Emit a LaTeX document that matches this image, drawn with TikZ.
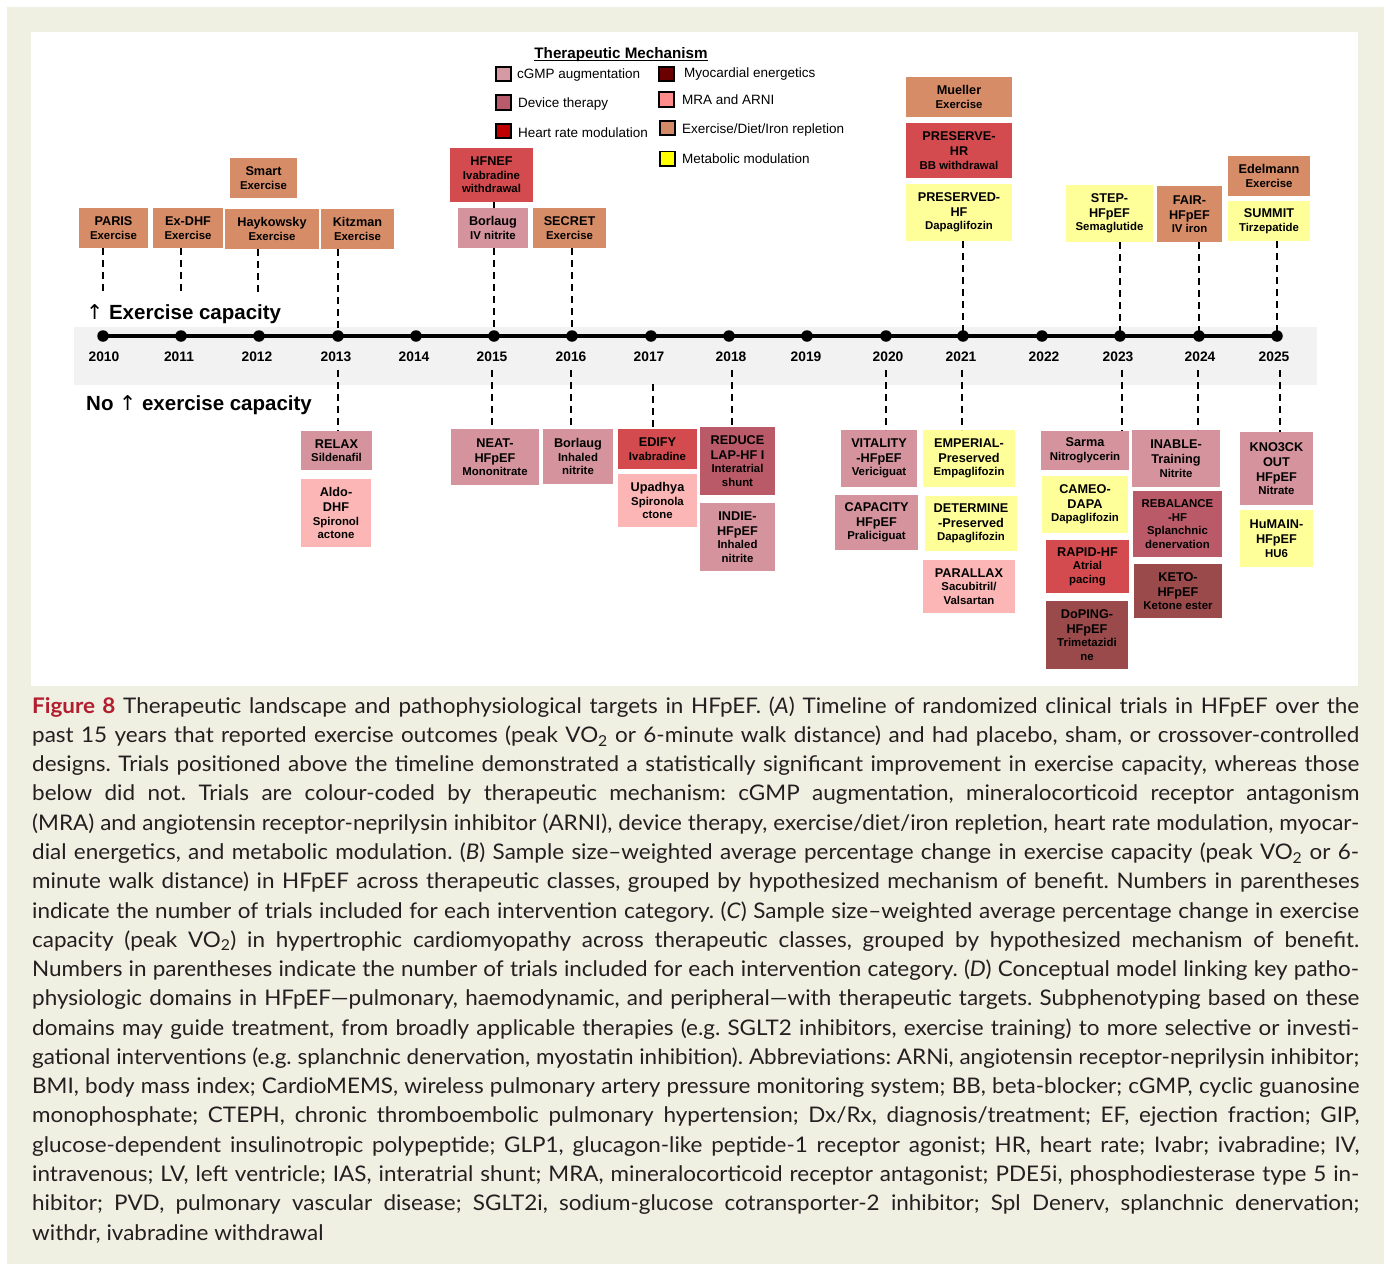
\documentclass[tikz,border=0pt]{standalone}
\usepackage{fontspec}
\newfontfamily\arial{Liberation Sans}
\newfontfamily\arrowfont{DejaVu Sans}
\newfontfamily\capfont[FakeStretch=1.045,Ligatures=TeX]{Lato}
\definecolor{beige}{RGB}{239,239,226}
\definecolor{band}{RGB}{242,242,242}
\definecolor{cExer}{RGB}{215,140,104}
\definecolor{cHR}{RGB}{211,75,78}
\definecolor{cCGMP}{RGB}{212,147,157}
\definecolor{cDev}{RGB}{186,90,105}
\definecolor{cMRA}{RGB}{253,182,182}
\definecolor{cMet}{RGB}{255,255,153}
\definecolor{cMyo}{RGB}{155,74,76}
\definecolor{lCGMP}{RGB}{213,154,164}
\definecolor{lDev}{RGB}{185,91,107}
\definecolor{lHR}{RGB}{192,0,0}
\definecolor{lMyo}{RGB}{107,0,0}
\definecolor{lMRA}{RGB}{255,139,139}
\definecolor{lExer}{RGB}{213,138,103}
\definecolor{lMet}{RGB}{255,255,0}
\definecolor{figred}{RGB}{178,30,46}
\definecolor{captext}{RGB}{35,31,32}
\newcommand\bxt[1]{{\fontsize{12.7pt}{15pt}\selectfont #1}}
\newcommand\uparr{{\arrowfont\mdseries ↑}}
\newcommand\trial[7]{\node[trial,fill=#6,minimum width={#4-#2},minimum height={#5-#3}] (#1) at ({(#2+#4)/2},{(#3+#5)/2}) {#7};}
\newcommand\capline[3]{\node[captxt] (#1) at (32,#2) {\makebox[1327pt][s]{#3}};}
\frenchspacing
\begin{document}
\begin{tikzpicture}[x=1pt,y=-1pt,
 trial/.style={inner sep=0pt,outer sep=0pt,align=center,text=black,font=\arial\bfseries\fontsize{11.4pt}{13.5pt}\selectfont},
 conn/.style={line width=2pt,dash pattern=on 7pt off 5pt,black},
 dot/.style={circle,fill=black,inner sep=0pt,minimum size=11.5pt},
 yearlbl/.style={font=\arial\bfseries\fontsize{13.8pt}{16pt}\selectfont,inner sep=0pt,text height=9.9pt,text depth=0pt},
 legsq/.style={draw=black,line width=1.6pt,minimum width=15pt,minimum height=14.5pt,inner sep=0pt},
 legtxt/.style={anchor=west,inner sep=0pt,font=\arial\fontsize{13.5pt}{16pt}\selectfont,text height=9.7pt,text depth=0pt},
 captxt/.style={anchor=base west,inner sep=0pt,text=captext,font=\capfont\fontsize{21.5pt}{25pt}\selectfont},
 biglbl/.style={anchor=west,inner sep=0pt,font=\arial\bfseries\fontsize{20.5pt}{24pt}\selectfont,text height=14.7pt,text depth=0pt}]
% background
\fill[white] (0,0) rectangle (1386,1266);
\fill[beige] (7,7) rectangle (1384,1264);
\fill[white] (31,32) rectangle (1358,686);
\fill[band] (74,327) rectangle (1317,385);
\useasboundingbox (0,0) rectangle (1386,1266);
% side labels
\node[biglbl] (up) at (86,312) {\uparr\ Exercise capacity};
\node[biglbl] (noup) at (86,403) {No \uparr\ exercise capacity};
% timeline
\coordinate (tlA) at (103,336);
\coordinate (tlB) at (1277,336);
\draw[line width=4.5pt] (tlA) -- (tlB);
\foreach \yr/\x/\lx in {2010/103/104,2011/181/179,2012/259/257,2013/338/336,2014/416/414,2015/494/492,2016/572/571,2017/651/649,2018/729/731,2019/807/806,2020/886/888,2021/963/961,2022/1042/1044,2023/1120/1118,2024/1199/1200,2025/1277/1274}{
  \node[dot] (y\yr) at (\x,336) {};
  \node[yearlbl] (l\yr) at (\lx,357) {\yr};
}
% ---- trials above
\trial{paris}{79}{208}{148}{248}{cExer}{\bxt{PARIS}\\Exercise}
\trial{exdhf}{153}{208}{223}{248}{cExer}{\bxt{Ex-DHF}\\Exercise}
\trial{smart}{230}{158}{297}{198}{cExer}{\bxt{Smart}\\Exercise}
\trial{hayk}{225}{209}{319}{249}{cExer}{\bxt{Haykowsky}\\Exercise}
\trial{kitz}{321}{209}{394}{249}{cExer}{\bxt{Kitzman}\\Exercise}
\trial{hfnef}{450}{148}{533}{202}{cHR}{\bxt{HFNEF}\\Ivabradine\\withdrawal}
\trial{borivn}{458}{208}{528}{248}{cCGMP}{\bxt{Borlaug}\\IV nitrite}
\trial{secret}{533}{208}{606}{248}{cExer}{\bxt{SECRET}\\Exercise}
\trial{mueller}{906}{77}{1012}{117}{cExer}{\bxt{Mueller}\\Exercise}
\trial{preshr}{906}{123}{1012}{178}{cHR}{\bxt{PRESERVE-}\\[1.5pt]\bxt{HR}\\BB withdrawal}
\trial{preshf}{906}{184}{1012}{241}{cMet}{\bxt{PRESERVED-}\\[1.5pt]\bxt{HF}\\Dapaglifozin}
\trial{step}{1066}{185}{1153}{242}{cMet}{\bxt{STEP-}\\[1.5pt]\bxt{HFpEF}\\Semaglutide}
\trial{fair}{1157}{186}{1222}{242}{cExer}{\bxt{FAIR-}\\[1.5pt]\bxt{HFpEF}\\IV iron}
\trial{edel}{1228}{156}{1310}{196}{cExer}{\bxt{Edelmann}\\Exercise}
\trial{summit}{1228}{201}{1310}{241}{cMet}{\bxt{SUMMIT}\\Tirzepatide}
% ---- trials below
\trial{relax}{301}{431}{372}{470}{cCGMP}{\bxt{RELAX}\\Sildenafil}
\trial{aldo}{301}{479}{371}{547}{cMRA}{\bxt{Aldo-}\\[1.5pt]\bxt{DHF}\\Spironol\\actone}
\trial{neat}{451}{429}{539}{485}{cCGMP}{\bxt{NEAT-}\\[1.5pt]\bxt{HFpEF}\\Mononitrate}
\trial{borinh}{543}{429}{613}{484}{cCGMP}{\bxt{Borlaug}\\Inhaled\\nitrite}
\trial{edify}{618}{429}{697}{469}{cHR}{\bxt{EDIFY}\\Ivabradine}
\trial{upadhya}{618}{474}{697}{527}{cMRA}{\bxt{Upadhya}\\Spironola\\ctone}
\trial{reduce}{700}{427}{775}{495}{cDev}{\bxt{REDUCE}\\[1.5pt]\bxt{LAP-HF I}\\Interatrial\\shunt}
\trial{indie}{700}{503}{775}{571}{cCGMP}{\bxt{INDIE-}\\[1.5pt]\bxt{HFpEF}\\Inhaled\\nitrite}
\trial{vitality}{841}{430}{917}{487}{cCGMP}{\bxt{VITALITY}\\[1.5pt]\bxt{-HFpEF}\\Vericiguat}
\trial{capacity}{835}{495}{918}{550}{cCGMP}{\bxt{CAPACITY}\\[1.5pt]\bxt{HFpEF}\\Praliciguat}
\trial{emperial}{923}{430}{1015}{487}{cMet}{\bxt{EMPERIAL-}\\[1.5pt]\bxt{Preserved}\\Empaglifozin}
\trial{determine}{925}{496}{1017}{551}{cMet}{\bxt{DETERMINE}\\[1.5pt]\bxt{-Preserved}\\Dapaglifozin}
\trial{parallax}{923}{560}{1015}{613}{cMRA}{\bxt{PARALLAX}\\Sacubitril/\\Valsartan}
\trial{sarma}{1041}{431}{1129}{470}{cCGMP}{\bxt{Sarma}\\Nitroglycerin}
\trial{cameo}{1042}{476}{1128}{533}{cMet}{\bxt{CAMEO-}\\[1.5pt]\bxt{DAPA}\\Dapaglifozin}
\trial{rapid}{1046}{540}{1129}{593}{cHR}{\bxt{RAPID-HF}\\Atrial\\pacing}
\trial{doping}{1046}{601}{1128}{669}{cMyo}{\bxt{DoPING-}\\[1.5pt]\bxt{HFpEF}\\Trimetazidi\\ne}
\trial{inable}{1132}{430}{1220}{487}{cCGMP}{\bxt{INABLE-}\\[1.5pt]\bxt{Training}\\Nitrite}
\trial{rebalance}{1133}{491}{1222}{557}{cDev}{REBALANCE\\-HF\\Splanchnic\\denervation}
\trial{keto}{1134}{564}{1222}{618}{cMyo}{\bxt{KETO-}\\[1.5pt]\bxt{HFpEF}\\Ketone ester}
\trial{kno3ck}{1240}{432}{1313}{505}{cCGMP}{\bxt{KNO3CK}\\[1.5pt]\bxt{OUT}\\[1.5pt]\bxt{HFpEF}\\Nitrate}
\trial{humain}{1240}{510}{1313}{567}{cMet}{\bxt{HuMAIN-}\\[1.5pt]\bxt{HFpEF}\\HU6}
% ---- connectors above
\coordinate (e2010) at (103,293);
\coordinate (e2011) at (181,293);
\coordinate (e2012) at (258,293);
\draw[conn] (paris.south -| e2010) -- (e2010);
\draw[conn] (exdhf.south -| e2011) -- (e2011);
\draw[conn] (hayk.south -| e2012) -- (e2012);
\draw[conn] (kitz.south -| y2013) -- (y2013.center);
\draw[conn] (hfnef.south -| y2015) -- (borivn.north -| y2015);
\draw[conn] (borivn.south -| y2015) -- (y2015.center);
\draw[conn] (secret.south -| y2016) -- (y2016.center);
\draw[conn] (preshf.south -| y2021) -- (y2021.center);
\draw[conn] (step.south -| y2023) -- (y2023.center);
\draw[conn] (fair.south -| y2024) -- (y2024.center);
\draw[conn] (summit.south -| y2025) -- (y2025.center);
% ---- connectors below
\coordinate (b2013) at (338,370);
\coordinate (b2015) at (492,370);
\coordinate (b2016) at (571,370);
\coordinate (b2017) at (653,384);
\coordinate (b2018) at (732,370);
\coordinate (b2020) at (886,370);
\coordinate (b2021) at (962,370);
\coordinate (b2023) at (1122,370);
\coordinate (b2024) at (1198,370);
\coordinate (b2025) at (1280,370);
\draw[conn] (b2013) -- (relax.north -| b2013);
\draw[conn] (b2015) -- (neat.north -| b2015);
\draw[conn] (b2016) -- (borinh.north -| b2016);
\draw[conn] (b2017) -- (edify.north -| b2017);
\draw[conn] (b2018) -- (reduce.north -| b2018);
\draw[conn] (b2020) -- (vitality.north -| b2020);
\draw[conn] (b2021) -- (emperial.north -| b2021);
\draw[conn] (b2023) -- (sarma.north -| b2023);
\draw[conn] (b2024) -- (inable.north -| b2024);
\draw[conn] (b2025) -- (kno3ck.north -| b2025);
% ---- legend
\node[inner sep=0pt,text height=11pt,text depth=0pt,font=\arial\bfseries\fontsize{15.2pt}{18pt}\selectfont] (legtitle) at (621,53) {Therapeutic Mechanism};
\draw[line width=1.4pt] ([yshift=-1.6pt]legtitle.south west) -- ([yshift=-1.6pt]legtitle.south east);
\node[legsq,fill=lCGMP] (sq1) at (503.5,74) {};
\node[legtxt] (lt1) at (517,74) {cGMP augmentation};
\node[legsq,fill=lDev] (sq2) at (503.5,102.5) {};
\node[legtxt] (lt2) at (518,103) {Device therapy};
\node[legsq,fill=lHR] (sq3) at (503.5,131) {};
\node[legtxt] (lt3) at (518,133) {Heart rate modulation};
\node[legsq,fill=lMyo] (sq4) at (666.5,74) {};
\node[legtxt] (lt4) at (684,72.5) {Myocardial energetics};
\node[legsq,fill=lMRA] (sq5) at (666.5,99.5) {};
\node[legtxt] (lt5) at (682,100) {MRA and ARNI};
\node[legsq,fill=lExer] (sq6) at (667.5,128) {};
\node[legtxt] (lt6) at (682,129) {Exercise/Diet/Iron repletion};
\node[legsq,fill=lMet] (sq7) at (667.5,158.7) {};
\node[legtxt] (lt7) at (682,159) {Metabolic modulation};
% ---- caption
\capline{cap1}{713}{\textbf{\color{figred}Figure 8} Therapeutic landscape and pathophysiological targets in HFpEF. (\textit{A}) Timeline of randomized clinical trials in HFpEF over the}
\capline{cap2}{742.3}{past 15 years that reported exercise outcomes (peak VO\textsubscript{2} or 6-minute walk distance) and had placebo, sham, or crossover-controlled}
\capline{cap3}{771.6}{designs. Trials positioned above the timeline demonstrated a statistically significant improvement in exercise capacity, whereas those}
\capline{cap4}{800.8}{below did not. Trials are colour-coded by therapeutic mechanism: cGMP augmentation, mineralocorticoid receptor antagonism}
\capline{cap5}{830.1}{(MRA) and angiotensin receptor-neprilysin inhibitor (ARNI), device therapy, exercise/diet/iron repletion, heart rate modulation, myocar-}
\capline{cap6}{859.4}{dial energetics, and metabolic modulation. (\textit{B}) Sample size–weighted average percentage change in exercise capacity (peak VO\textsubscript{2} or 6-}
\capline{cap7}{888.7}{minute walk distance) in HFpEF across therapeutic classes, grouped by hypothesized mechanism of benefit. Numbers in parentheses}
\capline{cap8}{918.0}{indicate the number of trials included for each intervention category. (\textit{C}) Sample size–weighted average percentage change in exercise}
\capline{cap9}{947.2}{capacity (peak VO\textsubscript{2}) in hypertrophic cardiomyopathy across therapeutic classes, grouped by hypothesized mechanism of benefit.}
\capline{cap10}{976.5}{Numbers in parentheses indicate the number of trials included for each intervention category. (\textit{D}) Conceptual model linking key patho-}
\capline{cap11}{1005.8}{physiologic domains in HFpEF—pulmonary, haemodynamic, and peripheral—with therapeutic targets. Subphenotyping based on these}
\capline{cap12}{1035.1}{domains may guide treatment, from broadly applicable therapies (e.g. SGLT2 inhibitors, exercise training) to more selective or investi-}
\capline{cap13}{1064.4}{gational interventions (e.g. splanchnic denervation, myostatin inhibition). Abbreviations: ARNi, angiotensin receptor-neprilysin inhibitor;}
\capline{cap14}{1093.6}{BMI, body mass index; CardioMEMS, wireless pulmonary artery pressure monitoring system; BB, beta-blocker; cGMP, cyclic guanosine}
\capline{cap15}{1122.9}{monophosphate; CTEPH, chronic thromboembolic pulmonary hypertension; Dx/Rx, diagnosis/treatment; EF, ejection fraction; GIP,}
\capline{cap16}{1152.2}{glucose-dependent insulinotropic polypeptide; GLP1, glucagon-like peptide-1 receptor agonist; HR, heart rate; Ivabr; ivabradine; IV,}
\capline{cap17}{1181.5}{intravenous; LV, left ventricle; IAS, interatrial shunt; MRA, mineralocorticoid receptor antagonist; PDE5i, phosphodiesterase type 5 in-}
\capline{cap18}{1210.7}{hibitor; PVD, pulmonary vascular disease; SGLT2i, sodium-glucose cotransporter-2 inhibitor; Spl Denerv, splanchnic denervation;}
\node[captxt] (cap19) at (32,1240) {withdr, ivabradine withdrawal};
\end{tikzpicture}
\end{document}
